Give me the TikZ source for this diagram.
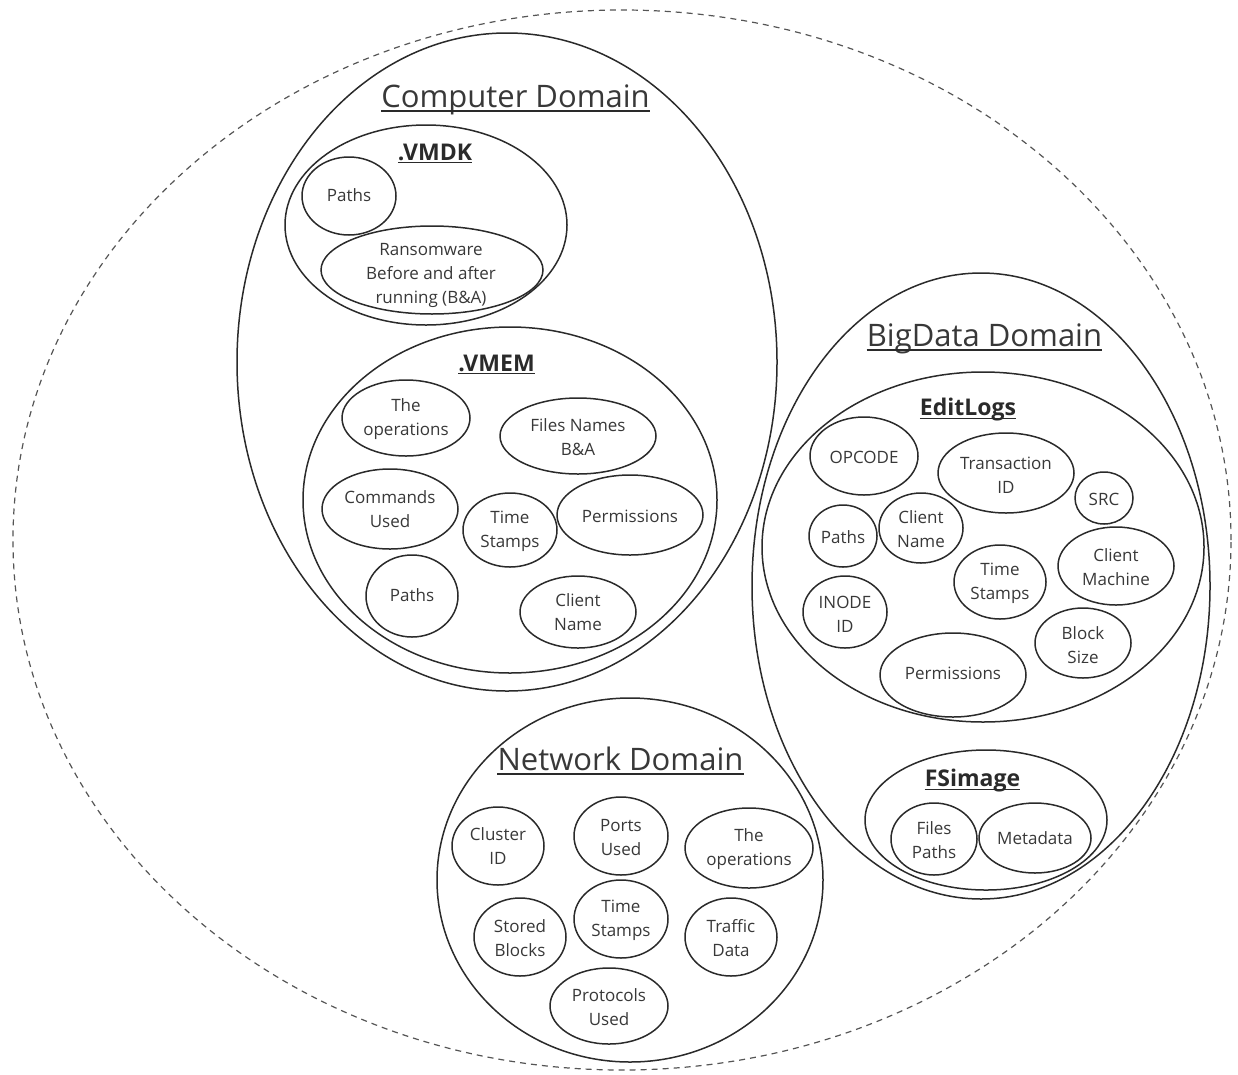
\documentclass[tikz,border=0pt]{standalone}
\usepackage{fontspec}
\setmainfont{Open Sans}
\usetikzlibrary{shapes.geometric}

\definecolor{ink}{HTML}{2A2A2A}
\definecolor{txt}{HTML}{383838}
\definecolor{dashgray}{HTML}{555555}

\newcommand\leaffont{\fontsize{17}{24}\selectfont}
\newcommand\domainfont{\fontsize{31}{36}\selectfont}
\newcommand\partfont{\bfseries\fontsize{23}{28}\selectfont}

\tikzset{
  blob/.style={ellipse, draw=ink, line width=1.5pt, inner sep=0pt, outer sep=0pt},
  sz/.style 2 args={minimum width=2*#1, minimum height=2*#2},
  leaftext/.style={font=\leaffont, text=txt, align=center, inner sep=0pt},
  domaintitle/.style={font=\domainfont, text=txt, inner sep=0pt, anchor=base},
  parttitle/.style={font=\partfont, text=ink, inner sep=0pt, anchor=base},
  uline/.style={draw=ink, line width=1.6pt},
  scopeline/.style={ellipse, draw=dashgray, line width=1.2pt, dash pattern=on 6pt off 5pt, inner sep=0pt}
}

\begin{document}
\begin{tikzpicture}[x=1pt, y=-1pt]
\useasboundingbox (0,0) rectangle (1238,1074);

% outer scope
\node[scopeline, sz={609pt}{530pt}] (all) at (622,540) {};

% ---------------- Computer domain ----------------
\node[blob, sz={270pt}{329pt}] (comp) at (507,362) {};
\node[domaintitle] (comp-t) at (515.5,107) {Computer Domain};
\draw[uline] ([yshift=-4pt]comp-t.base west) -- ([yshift=-4pt]comp-t.base east);

\node[blob, sz={141pt}{100pt}] (vmdk) at (426,225) {};
\node[parttitle] (vmdk-t) at (435,160) {.VMDK};
\draw[uline] ([yshift=-2.5pt]vmdk-t.base west) -- ([yshift=-2.5pt]vmdk-t.base east);
\node[blob, sz={47pt}{39pt}] (vmdk-paths) at (349,196) {};
\node[leaftext] (vmdk-paths-t) at (349,195) {Paths};
\node[blob, sz={111pt}{44pt}] (vmdk-rw) at (432,270) {};
% the three-line label is cut off by the ellipse's lower edge
\begin{scope}
  \clip (432,270) ellipse [x radius=110pt, y radius=43pt];
  \node[leaftext] (vmdk-rw-t) at (431,275) {Ransomware\\Before and after\\running (B\&A)};
\end{scope}

\node[blob, sz={207pt}{173pt}] (vmem) at (510,500) {};
\node[parttitle] (vmem-t) at (496.5,371) {.VMEM};
\draw[uline] ([yshift=-2.5pt]vmem-t.base west) -- ([yshift=-2.5pt]vmem-t.base east);
\node[blob, sz={64pt}{38pt}] (vmem-ops) at (406,418) {};
\node[leaftext] (vmem-ops-t) at (406,419) {The\\operations};
\node[blob, sz={78pt}{38pt}] (vmem-files) at (578,436) {};
\node[leaftext] (vmem-files-t) at (578,437) {Files Names\\B\&A};
\node[blob, sz={68pt}{40pt}] (vmem-cmd) at (390,509) {};
\node[leaftext] (vmem-cmd-t) at (390,509) {Commands\\Used};
\node[blob, sz={47pt}{37pt}] (vmem-time) at (510,530) {};
\node[leaftext] (vmem-time-t) at (510,531) {Time\\Stamps};
\node[blob, sz={73pt}{40pt}] (vmem-perm) at (630,515) {};
\node[leaftext] (vmem-perm-t) at (630,516) {Permissions};
\node[blob, sz={46pt}{41pt}] (vmem-paths) at (412,596) {};
\node[leaftext] (vmem-paths-t) at (412,595) {Paths};
\node[blob, sz={58pt}{36pt}] (vmem-client) at (578,612) {};
\node[leaftext] (vmem-client-t) at (578,612) {Client\\Name};

% ---------------- BigData domain ----------------
\node[blob, sz={229pt}{313pt}] (big) at (981,586) {};
\node[domaintitle] (big-t) at (984.5,346) {BigData Domain};
\draw[uline] ([yshift=-4pt]big-t.base west) -- ([yshift=-4pt]big-t.base east);

\node[blob, sz={221pt}{175pt}] (edit) at (983,547) {};
\node[parttitle] (edit-t) at (968,415) {EditLogs};
\draw[uline] ([yshift=-3.5pt]edit-t.base west) -- ([yshift=-3.5pt]edit-t.base east);
\node[blob, sz={54pt}{39pt}] (edit-op) at (864,456) {};
\node[leaftext] (edit-op-t) at (864,457) {OPCODE};
\node[blob, sz={68pt}{40pt}] (edit-tx) at (1006,473) {};
\node[leaftext] (edit-tx-t) at (1006,475) {Transaction\\ID};
\node[blob, sz={29pt}{26pt}] (edit-src) at (1104,498) {};
\node[leaftext] (edit-src-t) at (1104,499) {SRC};
\node[blob, sz={34pt}{31pt}] (edit-paths) at (843,536) {};
\node[leaftext] (edit-paths-t) at (843,537) {Paths};
\node[blob, sz={42pt}{35pt}] (edit-client) at (921,528) {};
\node[leaftext] (edit-client-t) at (921,529) {Client\\Name};
\node[blob, sz={46pt}{37pt}] (edit-time) at (1000,582) {};
\node[leaftext] (edit-time-t) at (1000,583) {Time\\Stamps};
\node[blob, sz={58pt}{39pt}] (edit-mach) at (1116,566) {};
\node[leaftext] (edit-mach-t) at (1116,567) {Client\\Machine};
\node[blob, sz={42pt}{36pt}] (edit-inode) at (845,612) {};
\node[leaftext] (edit-inode-t) at (845,614) {INODE\\ID};
\node[blob, sz={48pt}{35pt}] (edit-block) at (1083,643) {};
\node[leaftext] (edit-block-t) at (1083,645) {Block\\Size};
\node[blob, sz={73pt}{42pt}] (edit-perm) at (953,675) {};
\node[leaftext] (edit-perm-t) at (953,673) {Permissions};

\node[blob, sz={121pt}{70pt}] (fsi) at (986,820) {};
\node[parttitle] (fsi-t) at (972.5,786) {FSimage};
\draw[uline] ([yshift=-3.5pt]fsi-t.base west) -- ([yshift=-3.5pt]fsi-t.base east);
\node[blob, sz={43pt}{36pt}] (fsi-files) at (934,839) {};
\node[leaftext] (fsi-files-t) at (934,840) {Files\\Paths};
\node[blob, sz={56pt}{35pt}] (fsi-meta) at (1035,838) {};
\node[leaftext] (fsi-meta-t) at (1035,838) {Metadata};

% ---------------- Network domain ----------------
\node[blob, sz={193pt}{182pt}] (net) at (630,880) {};
\node[domaintitle] (net-t) at (620.5,770) {Network Domain};
\draw[uline] ([yshift=-4pt]net-t.base west) -- ([yshift=-4pt]net-t.base east);

\node[blob, sz={46pt}{39pt}] (net-cluster) at (498,846) {};
\node[leaftext] (net-cluster-t) at (498,846) {Cluster\\ID};
\node[blob, sz={47pt}{39pt}] (net-ports) at (621,836) {};
\node[leaftext] (net-ports-t) at (621,837) {Ports\\Used};
\node[blob, sz={64pt}{40pt}] (net-ops) at (749,848) {};
\node[leaftext] (net-ops-t) at (749,849) {The\\operations};
\node[blob, sz={46pt}{39pt}] (net-stored) at (520,937) {};
\node[leaftext] (net-stored-t) at (520,938) {Stored\\Blocks};
\node[blob, sz={47pt}{39pt}] (net-time) at (621,919) {};
\node[leaftext] (net-time-t) at (621,920) {Time\\Stamps};
\node[blob, sz={46pt}{39pt}] (net-traffic) at (731,937) {};
\node[leaftext] (net-traffic-t) at (731,938) {Traffic\\Data};
\node[blob, sz={59pt}{38pt}] (net-proto) at (609,1006) {};
\node[leaftext] (net-proto-t) at (609,1007) {Protocols\\Used};
\end{tikzpicture}
\end{document}
